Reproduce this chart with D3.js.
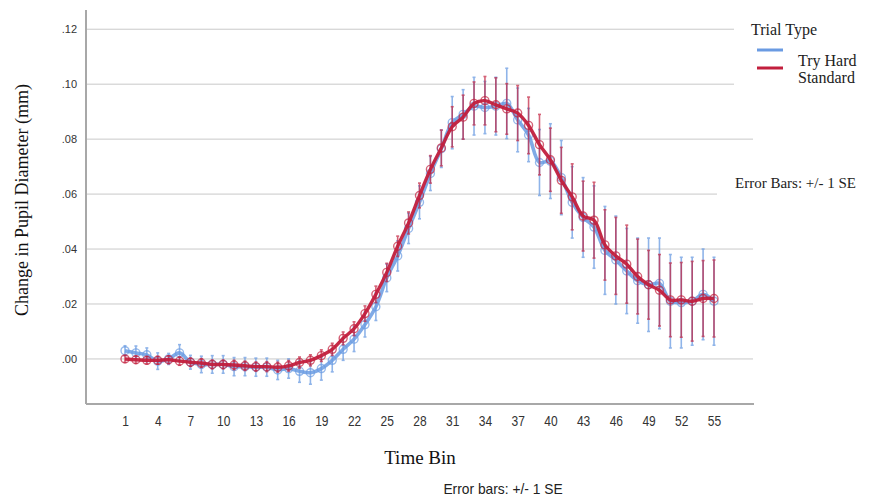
<!DOCTYPE html>
<html>
<head>
<meta charset="utf-8">
<script src="https://cdn.jsdelivr.net/npm/d3@7"></script>
<style>
  body { margin: 0; background: #fff; }
  svg { display: block; }
</style>
</head>
<body>
<div id="chart"></div>
<script>
// time bins 1..55
const bins = d3.range(1, 56);
const xTicks = [1, 4, 7, 10, 13, 16, 19, 22, 25, 28, 31, 34, 37, 40, 43, 46, 49, 52, 55];
const yTicks = [0, 0.02, 0.04, 0.06, 0.08, 0.10, 0.12];
const yTickLabels = [".00", ".02", ".04", ".06", ".08", ".10", ".12"];

// Try Hard means / SE
const tryHard = [
  0.003, 0.0022, 0.0015, -0.0008, 0.0, 0.0022, -0.0012, -0.002, -0.002, -0.002,
  -0.0028, -0.0028, -0.003, -0.003, -0.004, -0.0035, -0.0045, -0.005, -0.0035, -0.0005,
  0.0035, 0.0072, 0.0125, 0.019, 0.0295, 0.0375, 0.0475, 0.057, 0.0675, 0.0765,
  0.086, 0.089, 0.092, 0.0915, 0.092, 0.093, 0.087, 0.0815, 0.0715, 0.072,
  0.066, 0.057, 0.0515, 0.048, 0.0395, 0.036, 0.032, 0.0285, 0.027, 0.0275,
  0.021, 0.0205, 0.021, 0.0235, 0.021
];
const tryHardSE = [
  0.0018, 0.0025, 0.0025, 0.003, 0.002, 0.003, 0.0025, 0.003, 0.0032, 0.0032,
  0.0033, 0.0033, 0.0033, 0.0033, 0.0035, 0.0035, 0.004, 0.0042, 0.0042, 0.0042,
  0.004, 0.0045, 0.0045, 0.005, 0.005, 0.0055, 0.0055, 0.006, 0.0062, 0.0068,
  0.0095, 0.009, 0.0105, 0.0095, 0.0105, 0.0128, 0.0116, 0.0097, 0.012, 0.0136,
  0.0135, 0.013, 0.0145, 0.015, 0.016, 0.016, 0.0155, 0.0155, 0.017, 0.0165,
  0.017, 0.0165, 0.016, 0.0165, 0.016
];

// Standard means / SE
const standard = [
  0.0, -0.0003, -0.0005, -0.0005, -0.0003, -0.0008, -0.0012, -0.0015, -0.002, -0.002,
  -0.0022, -0.0025, -0.0028, -0.0028, -0.003, -0.0025, -0.0013, -0.0005, 0.0012, 0.0035,
  0.0075, 0.011, 0.0165, 0.0235, 0.0315, 0.041, 0.0495, 0.0595, 0.069, 0.0768,
  0.0845, 0.088, 0.093, 0.094, 0.0925, 0.091, 0.0895, 0.085, 0.078, 0.0725,
  0.065, 0.059, 0.052, 0.0505, 0.0415, 0.0375, 0.0345, 0.030, 0.027, 0.025,
  0.0215, 0.0215, 0.021, 0.022, 0.022
];
const standardSE = [
  0.0012, 0.0013, 0.0013, 0.0014, 0.0014, 0.0015, 0.0015, 0.0016, 0.0016, 0.0016,
  0.0017, 0.0017, 0.0017, 0.0018, 0.0018, 0.0019, 0.002, 0.002, 0.0021, 0.0022,
  0.0023, 0.0025, 0.0028, 0.003, 0.0033, 0.0037, 0.004, 0.0045, 0.005, 0.0065,
  0.0073, 0.008, 0.0078, 0.0088, 0.0098, 0.0092, 0.010, 0.0103, 0.011, 0.0115,
  0.012, 0.012, 0.0127, 0.0138, 0.0128, 0.014, 0.0142, 0.0136, 0.0125, 0.013,
  0.0134, 0.0136, 0.0145, 0.0138, 0.014
];

const seriesNames = ["Try Hard", "Standard"];
const seriesColors = ["#6a9be2", "#c21f3d"];

const W = 885, H = 498;
const margin = { top: 10, right: 132, bottom: 94, left: 86 };
const width = W - margin.left - margin.right,
  height = H - margin.top - margin.bottom;

const svg = d3.select("#chart").append("svg")
  .attr("width", W)
  .attr("height", H);

const g = svg.append("g")
  .attr("transform", "translate(" + margin.left + "," + margin.top + ")");

const x = d3.scaleLinear().domain([1, 55]).range([39, 628]);
const y = d3.scaleLinear().domain([-0.0164, 0.127]).range([height, 0]);

// gridlines
g.append("g")
  .selectAll("line")
  .data(yTicks)
  .enter()
  .append("line")
  .attr("x1", 0)
  .attr("x2", width)
  .attr("y1", d => y(d))
  .attr("y2", d => y(d))
  .attr("stroke", "#c9c9c9")
  .attr("stroke-width", 1);

// y axis (labels only)
const yAxis = d3.axisLeft(y)
  .tickValues(yTicks)
  .tickSize(0)
  .tickPadding(9)
  .tickFormat((d, i) => yTickLabels[i]);
g.append("g")
  .call(yAxis)
  .call(s => s.select(".domain").remove())
  .selectAll("text")
  .attr("font-family", "'Liberation Sans', Arial, sans-serif")
  .attr("font-size", "11px")
  .attr("fill", "#333");

// x axis, narrow labels like Arial Narrow
const xAxis = d3.axisBottom(x).tickValues(xTicks).tickSize(0).tickPadding(11);
g.append("g")
  .attr("transform", "translate(0," + height + ")")
  .call(xAxis)
  .call(s => s.select(".domain").remove())
  .selectAll("text")
  .attr("font-family", "'Liberation Sans', Arial, sans-serif")
  .attr("font-size", "15px")
  .attr("transform", "scale(0.8,1)")
  .attr("fill", "#333");

// axis lines
g.append("line")
  .attr("x1", 0).attr("x2", 0).attr("y1", 0).attr("y2", height)
  .attr("stroke", "#a8a8a8").attr("stroke-width", 2);
g.append("line")
  .attr("x1", 0).attr("x2", width + 1).attr("y1", height).attr("y2", height)
  .attr("stroke", "#a8a8a8").attr("stroke-width", 2);

// series
const allMeans = [tryHard, standard];
const allSE = [tryHardSE, standardSE];

const line = d3.line()
  .x(d => x(d.bin))
  .y(d => y(d.v))
  .curve(d3.curveCatmullRom);

seriesNames.forEach((name, k) => {
  const pts = bins.map((b, i) => ({ bin: b, v: allMeans[k][i], se: allSE[k][i] }));
  const col = seriesColors[k];
  const sg = g.append("g").attr("class", "series-" + k);

  // error bars
  const eb = sg.append("g")
    .attr("stroke", col)
    .attr("stroke-width", 1.6)
    .attr("opacity", k == 0 ? 0.75 : 0.7);
  eb.selectAll("line.v")
    .data(pts)
    .enter()
    .append("line")
    .attr("x1", d => x(d.bin))
    .attr("x2", d => x(d.bin))
    .attr("y1", d => y(d.v - d.se))
    .attr("y2", d => y(d.v + d.se));
  eb.selectAll("line.t")
    .data(pts)
    .enter()
    .append("line")
    .attr("x1", d => x(d.bin) - 1.5)
    .attr("x2", d => x(d.bin) + 1.5)
    .attr("y1", d => y(d.v + d.se))
    .attr("y2", d => y(d.v + d.se));
  eb.selectAll("line.b")
    .data(pts)
    .enter()
    .append("line")
    .attr("x1", d => x(d.bin) - 1.5)
    .attr("x2", d => x(d.bin) + 1.5)
    .attr("y1", d => y(d.v - d.se))
    .attr("y2", d => y(d.v - d.se));

  // mean line
  sg.append("path")
    .datum(pts)
    .attr("fill", "none")
    .attr("stroke", col)
    .attr("stroke-width", k == 0 ? 3.6 : 3.4)
    .attr("opacity", k == 0 ? 0.85 : 0.95)
    .attr("d", line);

  // hollow markers
  sg.selectAll("circle")
    .data(pts)
    .enter()
    .append("circle")
    .attr("cx", d => x(d.bin))
    .attr("cy", d => y(d.v))
    .attr("r", 4)
    .attr("fill", "none")
    .attr("stroke", col)
    .attr("stroke-width", 1.4)
    .attr("opacity", 0.7);
});

// legend area (white boxes interrupt the gridlines)
svg.append("rect").attr("x", 734).attr("y", 14).attr("width", 151).attr("height", 80).attr("fill", "#fff");
svg.append("rect").attr("x", 717).attr("y", 168).attr("width", 168).attr("height", 30).attr("fill", "#fff");

const serif = "'Liberation Serif', 'Times New Roman', serif";
svg.append("text")
  .attr("x", 751).attr("y", 35)
  .attr("font-family", serif).attr("font-size", "16px").attr("fill", "#222")
  .text("Trial Type");
seriesNames.forEach((name, k) => {
  svg.append("line")
    .attr("x1", 757).attr("x2", 783)
    .attr("y1", 50 + k * 18).attr("y2", 50 + k * 18)
    .attr("stroke", seriesColors[k]).attr("stroke-width", 3);
  svg.append("text")
    .attr("x", 798).attr("y", 66 + k * 17)
    .attr("font-family", serif).attr("font-size", "16px").attr("fill", "#222")
    .text(name);
});
svg.append("text")
  .attr("x", 735).attr("y", 188)
  .attr("font-family", serif).attr("font-size", "15px").attr("fill", "#222")
  .text("Error Bars: +/- 1 SE");

// axis titles
svg.append("text")
  .attr("transform", "translate(28," + 200 + ") rotate(-90)")
  .attr("text-anchor", "middle")
  .attr("font-family", serif).attr("font-size", "18px").attr("fill", "#111")
  .text("Change in Pupil Diameter (mm)");
svg.append("text")
  .attr("x", 420).attr("y", 464)
  .attr("text-anchor", "middle")
  .attr("font-family", serif).attr("font-size", "19px").attr("fill", "#111")
  .text("Time Bin");
svg.append("text")
  .attr("text-anchor", "middle")
  .attr("font-family", "'Liberation Sans', Arial, sans-serif")
  .attr("font-size", "15px")
  .attr("transform", "translate(503,494) scale(0.92,1)")
  .attr("fill", "#222")
  .text("Error bars: +/- 1 SE");
</script>
</body>
</html>
